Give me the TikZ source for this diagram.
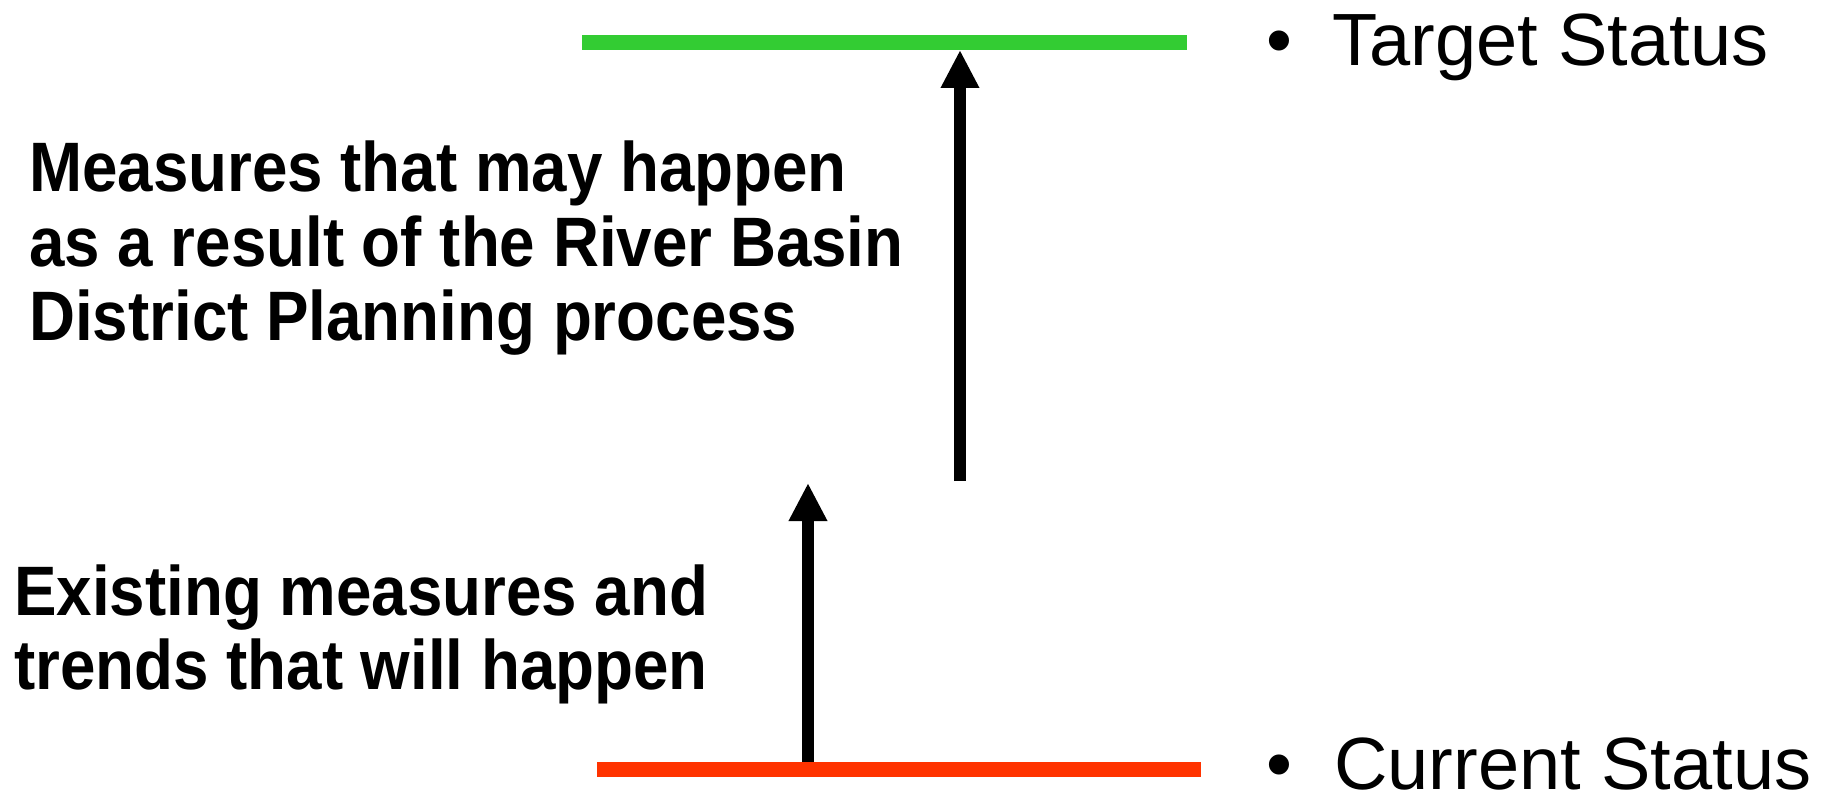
\documentclass[tikz,border=0pt]{standalone}
\usepackage{fontspec}
\setmainfont{Liberation Sans}
\newfontfamily\narrowbold[FakeStretch=0.91]{Liberation Sans Bold}
\usetikzlibrary{arrows.meta}
\definecolor{tgreen}{HTML}{33CC33}
\definecolor{cred}{HTML}{FF3300}
\tikzset{
  level/.style={line width=15pt},
  uparrow/.style={line width=12pt, -{Triangle[width=36pt,length=38pt]}},
  bigtext/.style={inner sep=0pt, anchor=base west, font=\fontsize{74}{80}\selectfont},
  boldline/.style={inner sep=0pt, anchor=base west, font=\narrowbold\fontsize{70}{75}\selectfont},
  bulletdot/.style={inner sep=0pt, text height=10pt, text depth=10pt, font=\fontsize{74}{80}\selectfont}
}
\begin{document}
\begin{tikzpicture}[x=1pt,y=-1pt]
\useasboundingbox (0,0) rectangle (1826,794);
% level lines
\coordinate (gL) at (582,43);
\coordinate (gR) at (1187,43);
\coordinate (rL) at (597,769);
\coordinate (rR) at (1201,769);
\draw[level, tgreen] (gL) -- (gR);
\draw[level, cred] (rL) -- (rR);
% arrows
\coordinate (a1s) at (960,481);
\coordinate (a1e) at (960,50);
\coordinate (a2s) at (808,762);
\coordinate (a2e) at (808,483);
\draw[uparrow] (a1s) -- (a1e);
\draw[uparrow] (a2s) -- (a2e);
% right labels
\node[bulletdot, anchor=base] (b1) at (1279,66) {•};
\node[bigtext] (ts) at (1332,66) {Target Status};
\node[bulletdot, anchor=base] (b2) at (1279,789) {•};
\node[bigtext, text depth=0pt] (cs) at (1334,789) {Current Status};
% left bold texts
\node[boldline] (m1) at (29,192) {Measures that may happen};
\node[boldline] (m2) at (29,267) {as a result of the River Basin};
\node[boldline] (m3) at (29,341) {District Planning process};
\node[boldline] (e1) at (14,615) {Existing measures and};
\node[boldline] (e2) at (14,689) {trends that will happen};
\end{tikzpicture}
\end{document}
